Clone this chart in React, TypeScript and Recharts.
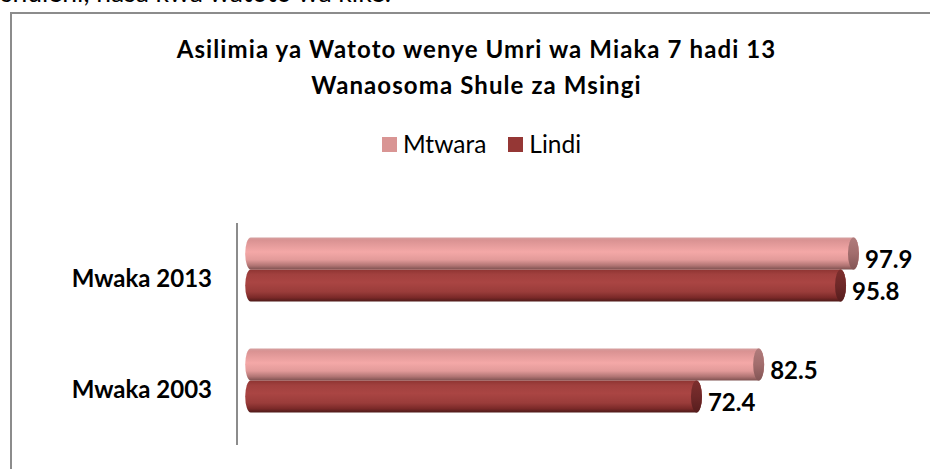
import React from 'react';
import { BarChart, Bar, XAxis, YAxis, LabelList } from 'recharts';

const categories = ['Mwaka 2013', 'Mwaka 2003'];
const mtwaraValues = [97.9, 82.5];
const lindiValues = [95.8, 72.4];
const seriesNames = ['Mtwara', 'Lindi'];
const legendColors = ['#D99594', '#953735'];
const titleLines = ['Asilimia ya Watoto wenye Umri wa Miaka 7 hadi 13', 'Wanaosoma Shule za Msingi'];
const headerText = 'shuleni, hasa kwa watoto wa kike.';

const data = categories.map((c, i) => ({ name: c, Mtwara: mtwaraValues[i], Lindi: lindiValues[i] }));

const FONT = 'Lato, "Open Sans", sans-serif';
const DX = 13.7;
const DY = -9.5;
const RX = 5.5;

const makeShape = (gradId: string, capId: string) => (props: any) => {
  const { x, y, width, height } = props;
  const x0 = x + DX;
  const x1 = x + DX + width;
  const yt = y + DY;
  const h = height;
  const ry = h / 2;
  const d = `M${x0},${yt} L${x1},${yt} A${RX},${ry} 0 0 1 ${x1},${yt + h} L${x0},${yt + h} A${RX},${ry} 0 0 1 ${x0},${yt} Z`;
  return (
    <g>
      <path d={d} fill={`url(#${gradId})`} />
      <ellipse cx={x1} cy={yt + ry} rx={RX} ry={ry} fill={`url(#${capId})`} />
    </g>
  );
};

const renderLabel = (props: any) => {
  const vb = props.viewBox || {};
  const x = props.x ?? vb.x;
  const y = props.y ?? vb.y;
  const width = props.width ?? vb.width;
  return (
    <text x={x + DX + width + RX + 6} y={y + DY + 30} fontFamily={FONT} fontWeight={700} fontSize={24} fill="#000">
      {props.value}
    </text>
  );
};

export default function App() {
  return (
    <div style={{ position: 'absolute', left: 0, top: 0, width: 930, height: 469, overflow: 'hidden', background: '#fff' }}>
      <div style={{ position: 'absolute', left: 10, top: 12, width: 1000, height: 1000, border: '2px solid #8c8c8c', boxSizing: 'border-box' }} />
      <BarChart
        width={930}
        height={469}
        data={data}
        layout="vertical"
        margin={{ top: 223, right: 77.3, bottom: 24, left: 0 }}
        barSize={32}
        barGap={0}
        style={{ position: 'absolute', left: 0, top: 0 }}
      >
        <defs>
          <linearGradient id="gMtwara" x1="0" y1="0" x2="0" y2="1">
            <stop offset="0" stopColor="#D4A0A0" />
            <stop offset="0.08" stopColor="#D99292" />
            <stop offset="0.45" stopColor="#F4A8A7" />
            <stop offset="0.7" stopColor="#E29A99" />
            <stop offset="0.88" stopColor="#B07473" />
            <stop offset="1" stopColor="#7E5150" />
          </linearGradient>
          <linearGradient id="gLindi" x1="0" y1="0" x2="0" y2="1">
            <stop offset="0" stopColor="#8E3432" />
            <stop offset="0.15" stopColor="#A1403E" />
            <stop offset="0.4" stopColor="#AA4543" />
            <stop offset="0.7" stopColor="#9A3C3A" />
            <stop offset="0.88" stopColor="#7A2928" />
            <stop offset="1" stopColor="#4E1A19" />
          </linearGradient>
          <linearGradient id="cMtwara" x1="0" y1="0" x2="0" y2="1">
            <stop offset="0" stopColor="#B07C7C" />
            <stop offset="0.5" stopColor="#A26D6D" />
            <stop offset="1" stopColor="#835555" />
          </linearGradient>
          <linearGradient id="cLindi" x1="0" y1="0" x2="0" y2="1">
            <stop offset="0" stopColor="#7C2E2D" />
            <stop offset="0.5" stopColor="#6E2828" />
            <stop offset="1" stopColor="#561D1D" />
          </linearGradient>
        </defs>
        <XAxis type="number" domain={[0, 100]} hide />
        <YAxis
          type="category"
          dataKey="name"
          width={237}
          tickLine={false}
          tickSize={0}
          tickMargin={25}
          axisLine={{ stroke: '#8c8c8c', strokeWidth: 2 }}
          tick={{ fill: '#000', fontSize: 24, fontWeight: 700, fontFamily: FONT }}
        />
        <Bar dataKey="Mtwara" isAnimationActive={false} shape={makeShape('gMtwara', 'cMtwara')}>
          <LabelList dataKey="Mtwara" content={renderLabel} />
        </Bar>
        <Bar dataKey="Lindi" isAnimationActive={false} shape={makeShape('gLindi', 'cLindi')}>
          <LabelList dataKey="Lindi" content={renderLabel} />
        </Bar>
      </BarChart>
      <svg width={930} height={469} style={{ position: 'absolute', left: 0, top: 0, pointerEvents: 'none' }}>
        <text x={1} y={1.5} fontFamily={FONT} fontSize={26.5} fill="#000">{headerText}</text>
        <text x={476.5} y={58.3} textAnchor="middle" fontFamily={FONT} fontWeight={700} fontSize={24} letterSpacing={1.1} fill="#000">{titleLines[0]}</text>
        <text x={476.5} y={93.5} textAnchor="middle" fontFamily={FONT} fontWeight={700} fontSize={24} letterSpacing={1.1} fill="#000">{titleLines[1]}</text>
      </svg>
      <div style={{ position: 'absolute', left: 0, top: 133, width: 963, display: 'flex', justifyContent: 'center', alignItems: 'center', fontFamily: FONT, fontSize: 24.5, lineHeight: '22px', color: '#000' }}>
        {seriesNames.map((n, i) => (
          <div key={n} style={{ display: 'flex', alignItems: 'center', marginLeft: i === 0 ? 0 : 22 }}>
            <div style={{ width: 15, height: 15, background: legendColors[i], marginRight: 6 }} />
            <span>{n}</span>
          </div>
        ))}
      </div>
    </div>
  );
}
